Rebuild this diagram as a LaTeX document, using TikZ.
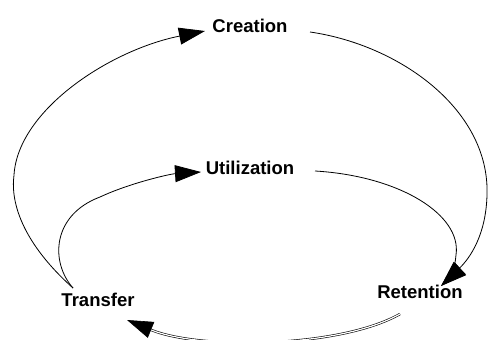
\documentclass[tikz,border=0pt]{standalone}
\usepackage{fontspec}
\setmainfont{Liberation Sans}
\usetikzlibrary{arrows.meta}

\begin{document}
\begin{tikzpicture}[x=1pt,y=-1pt,
    stage/.style={font=\fontsize{18.5}{20}\selectfont\bfseries,inner sep=0pt},
    flow/.style={line width=0.8pt,-{Triangle[length=26pt,width=17pt]}},
    back/.style={flow,double,double distance=1.2pt,line width=0.6pt}]
            \useasboundingbox (0,0) rectangle (488,340);

            \node[stage] (Cr) at (250,26) {Creation};
            \node[stage] (Ut) at (250,168) {Utilization};
            \node[stage] (Tr) at (98,300) {Transfer};
            \node[stage] (Re) at (420,292) {Retention};

            \coordinate (Tr-up) at (73,288);
            \coordinate (Cr-in) at (205,31);
            \coordinate (Cr-out) at (310,32);
            \coordinate (Ut-in) at (201,172);
            \coordinate (Ut-out) at (315,171);
            \coordinate (Re-in) at (441,286);
            \coordinate (Re-out) at (400,314);
            \coordinate (Tr-in) at (127,320);

            \draw[flow] (Tr-up) .. controls (25,245) and (10,205) .. (14,175)
                .. controls (18,110) and (110,50) .. (Cr-in);
            \draw[flow] (Cr-out) .. controls (400,45) and (490,110) .. (487,195)
                .. controls (486,235) and (470,258) .. (Re-in);
            \draw[flow] (Tr-up) .. controls (50,262) and (52,215) .. (100,197)
                .. controls (130,183) and (170,174) .. (Ut-in);
            \draw[flow] (Ut-out) .. controls (400,176) and (462,215) .. (456,255)
                .. controls (455,268) and (450,278) .. (Re-in);
            \draw[back] (Re-out) .. controls (340,348) and (200,350) .. (Tr-in);
        \end{tikzpicture}
\end{document}
